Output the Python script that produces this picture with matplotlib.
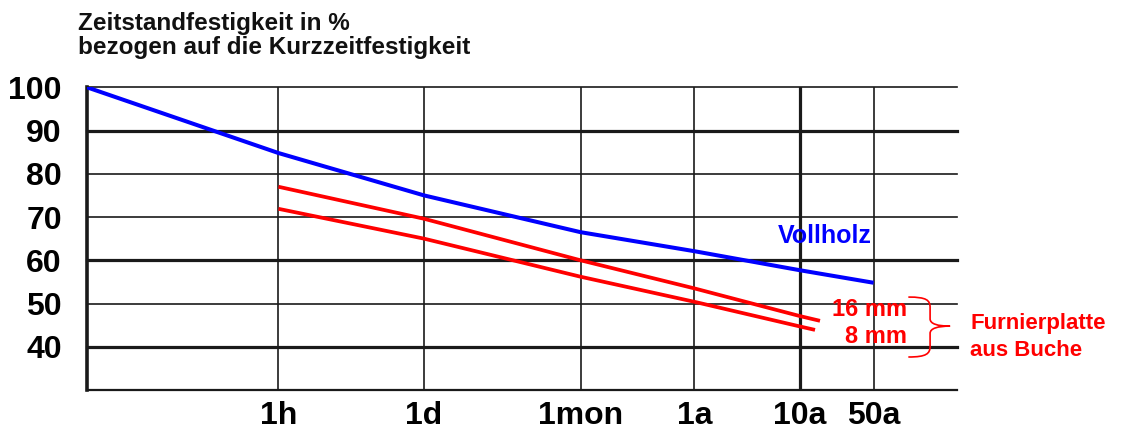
import matplotlib
matplotlib.use("Agg")
import matplotlib.pyplot as plt
from matplotlib.path import Path
from matplotlib.patches import PathPatch

plt.rcParams["font.family"] = ["Liberation Sans", "DejaVu Sans"]
plt.rcParams["font.weight"] = "bold"

# Zeitachse in Stunden
TICK_HOURS = [1, 24, 730, 8760, 87600, 438000]
TICK_LABELS = ["1h", "1d", "1mon", "1a", "10a", "50a"]
THICK_X = [87600]

Y_TICKS = [100, 90, 80, 70, 60, 50, 40]
THICK_Y = [90, 60, 40]

X_MIN, X_MAX = 0.0153, 2.71e6

# Vollholz
voll_h = [X_MIN, 1, 24, 730, 8760, 87600, 438000]
voll_v = [100, 84.8, 75.0, 66.5, 62.1, 57.7, 54.8]

# Furnierplatte aus Buche
f16_h = [1, 24, 730, 8760, 87600, 136000]
f16_v = [77.0, 69.6, 60.0, 53.5, 47.1, 46.0]
f8_h = [1, 24, 730, 8760, 87600, 122000]
f8_v = [71.9, 65.0, 56.2, 50.4, 44.7, 43.9]

BLUE = "#0000FF"
RED = "#FF0000"
GRID = "#1a1a1a"

fig = plt.figure(figsize=(11.22, 4.29), dpi=100)
ax = fig.add_axes([0.0775, 0.0909, 0.7755, 0.7056])
ax.set_xscale("log")
ax.set_xlim(X_MIN, X_MAX)
ax.set_ylim(30, 100)

for y in Y_TICKS:
    lw = 2.3 if y in THICK_Y else 1.2
    ax.axhline(y, color=GRID, lw=lw, zorder=1, clip_on=False)
for x in TICK_HOURS:
    lw = 2.3 if x in THICK_X else 1.2
    ax.axvline(x, color=GRID, lw=lw, zorder=1)

for side in ["top", "right"]:
    ax.spines[side].set_visible(False)
ax.spines["left"].set_linewidth(2.6)
ax.spines["bottom"].set_linewidth(1.6)
ax.spines["left"].set_color(GRID)
ax.spines["bottom"].set_color(GRID)

ax.set_xticks(TICK_HOURS)
ax.set_xticklabels(TICK_LABELS)
ax.xaxis.set_minor_locator(matplotlib.ticker.NullLocator())
ax.set_yticks(Y_TICKS)
ax.tick_params(axis="both", length=0, labelsize=23)
ax.tick_params(axis="x", pad=8)
ax.tick_params(axis="y", pad=18)

ax.plot(voll_h, voll_v, color=BLUE, lw=2.9, zorder=3, solid_capstyle="butt")
ax.plot(f16_h, f16_v, color=RED, lw=2.7, zorder=3, solid_capstyle="butt")
ax.plot(f8_h, f8_v, color=RED, lw=2.7, zorder=3, solid_capstyle="butt")

ax.text(4.2e5, 65.5, "Vollholz", color=BLUE, fontsize=18, ha="right", va="center", zorder=4)
ax.text(0.9425, 48.6, "16 mm", color=RED, fontsize=17, ha="right", va="center",
        transform=ax.get_yaxis_transform(), zorder=4)
ax.text(0.9425, 42.4, "8 mm", color=RED, fontsize=17, ha="right", va="center",
        transform=ax.get_yaxis_transform(), zorder=4)

# geschweifte Klammer
verts = [
    (0.944, 0.307), (0.965, 0.307), (0.969, 0.297), (0.969, 0.272),
    (0.969, 0.235),
    (0.969, 0.218), (0.978, 0.211), (0.992, 0.211),
    (0.978, 0.211), (0.969, 0.204), (0.969, 0.187),
    (0.969, 0.145),
    (0.969, 0.120), (0.965, 0.109), (0.944, 0.109),
]
codes = [Path.MOVETO, Path.CURVE4, Path.CURVE4, Path.CURVE4,
         Path.LINETO,
         Path.CURVE4, Path.CURVE4, Path.CURVE4,
         Path.CURVE4, Path.CURVE4, Path.CURVE4,
         Path.LINETO,
         Path.CURVE4, Path.CURVE4, Path.CURVE4]
ax.add_patch(PathPatch(Path(verts, codes), transform=ax.transAxes, fill=False,
                       edgecolor=RED, lw=1.2, clip_on=False, zorder=4))

ax.text(1.015, 0.221, "Furnierplatte", color=RED, fontsize=16, ha="left", va="center",
        transform=ax.transAxes)
ax.text(1.015, 0.132, "aus Buche", color=RED, fontsize=16, ha="left", va="center",
        transform=ax.transAxes)

fig.text(78 / 1122, 1 - 12 / 429, "Zeitstandfestigkeit in %\nbezogen auf die Kurzzeitfestigkeit",
         fontsize=17.5, ha="left", va="top", color="#111111", linespacing=1.05)

fig.savefig("out.png", dpi=100, facecolor="white")
